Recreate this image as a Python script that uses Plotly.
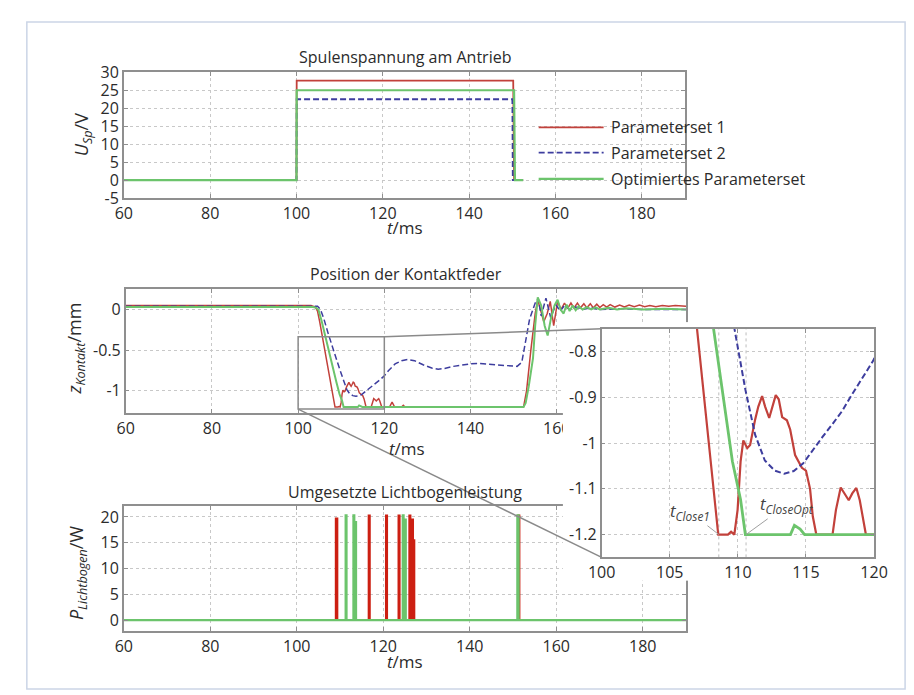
import plotly.graph_objects as go

W, H = 914, 695

# ---------------- data ----------------
# Spulenspannung (V)
u_t_ps1 = [60, 100, 100.05, 150.2, 150.4, 152.5]
u_ps1 = [0, 0, 27.7, 27.7, 0, 0]
u_t_ps2 = [60, 100, 100.05, 150.0, 150.1, 152.5]
u_ps2 = [0, 0, 22.5, 22.5, 0, 0]
u_t_opt = [60, 100, 100.05, 150.4, 150.6, 152.5]
u_opt = [0, 0, 25, 25, 0, 0]

# Position der Kontaktfeder (mm)
z_t_ps1 = [60, 70, 80, 90, 103, 104, 104.5, 105, 106, 107, 108, 108.56, 109.27, 109.5, 109.74,
           109.98, 110.2, 110.4, 110.69, 110.9, 111.27, 111.5, 111.78, 112.0, 112.3, 112.55,
           112.78, 113.0, 113.25, 113.6, 113.84, 114.2, 114.7, 115.0, 115.3, 115.5, 115.76,
           116.95, 117.2, 117.55, 117.85, 118.14, 118.4, 118.7, 118.95, 119.2, 119.4,
           121.2, 121.8, 122.4, 124.0, 124.4, 124.8, 152.3, 153.0, 154.0, 155.0, 155.6,
           156.3, 157.0, 157.8, 158.5, 159.3, 160.2, 161.0, 161.8, 162.5, 163.3, 164.0,
           164.8, 165.5, 166.3, 167.0, 167.8, 168.5, 169.3, 170.0, 170.8, 171.6, 172.4,
           173.5, 174.6, 175.7, 176.8, 178, 179.2, 180.4, 181.6, 183, 184.5, 186, 187.5, 190]
z_ps1 = [0.05, 0.05, 0.05, 0.05, 0.05, 0.03, -0.02, -0.15, -0.45, -0.75, -1.04, -1.2, -1.2, -1.194, -1.2,
         -1.146, -1.04, -0.994, -1.011, -1.004, -0.948, -0.92, -0.897, -0.92, -0.945, -0.92,
         -0.895, -0.904, -0.943, -0.95, -0.97, -1.026, -1.054, -1.06, -1.1, -1.16, -1.2,
         -1.2, -1.146, -1.097, -1.11, -1.125, -1.11, -1.098, -1.125, -1.167, -1.2,
         -1.2, -1.14, -1.2, -1.2, -1.18, -1.2, -1.2, -1.0, -0.5, -0.05, 0.12,
         0.0, -0.15, -0.05, 0.1, -0.2, 0.10, 0.0, 0.08, 0.01, 0.08, 0.02,
         0.08, 0.02, 0.07, 0.02, 0.07, 0.02, 0.065, 0.025, 0.06, 0.03, 0.06,
         0.03, 0.055, 0.03, 0.055, 0.035, 0.055, 0.035, 0.05, 0.035, 0.05, 0.04, 0.05, 0.04]

z_t_ps2 = [60, 104.5, 105.2, 106, 107, 108, 109, 109.75, 110.55, 111.27, 111.98, 112.7, 113.4,
           114.1, 114.8, 115.5, 116.2, 116.95, 117.65, 118.37, 119.1, 119.93, 121, 122.5, 124,
           125.5, 127, 129, 131, 132.5, 134, 136, 138, 140, 142, 144, 146, 148, 150.8, 151.9,
           152.8, 153.7, 155.0, 155.7, 156.4, 157.5, 158.6, 159.8, 160.8, 161.8, 163, 164.5,
           166, 168, 170, 175, 180, 190]
z_ps2 = [0.04, 0.04, 0.0, -0.12, -0.3, -0.48, -0.63, -0.75, -0.883, -0.982, -1.038, -1.06, -1.067,
         -1.061, -1.044, -1.015, -0.987, -0.958, -0.93, -0.894, -0.86, -0.82, -0.75, -0.67, -0.63,
         -0.615, -0.63, -0.68, -0.72, -0.735, -0.725, -0.7, -0.68, -0.668, -0.665, -0.672, -0.685,
         -0.695, -0.70, -0.65, -0.4, -0.12, 0.08, 0.14, -0.08, 0.14, -0.1, 0.06, -0.02, 0.05, 0.0,
         0.03, 0.0, 0.02, 0.0, 0.01, 0.0, 0.0]

z_t_opt = [60, 103.5, 104.2, 104.7, 105.5, 106.5, 107.5, 108.2, 108.9, 109.6, 110.2, 110.55,
           113.86, 114.15, 114.57, 114.9, 152.3, 152.8, 153.5, 154.5, 155.0, 155.6, 156.4,
           157.2, 157.9, 158.7, 159.5, 160.2, 160.9, 161.6, 162.3, 163.0, 163.7, 164.4, 165.1,
           166, 167, 168, 169, 170, 172, 174, 176, 180, 185, 190]
z_opt = [0.03, 0.03, 0.02, 0.0, -0.15, -0.38, -0.6, -0.75, -0.898, -1.04, -1.124, -1.2,
         -1.2, -1.18, -1.188, -1.2, -1.2, -1.15, -0.95, -0.6, -0.2, 0.15, 0.05,
         -0.2, -0.32, -0.1, 0.05, 0.12, 0.0, -0.05, 0.06, -0.02, 0.05, -0.01, 0.04,
         0.0, 0.03, 0.0, 0.025, 0.0, 0.02, 0.0, 0.015, 0.0, 0.01, 0.0]

# Umgesetzte Lichtbogenleistung (W): arcs as (start ms, end ms, power W)
arc_ps1 = [(109.0, 109.4, 19.7), (116.6, 116.9, 20.3), (120.6, 120.9, 20.3), (123.5, 123.8, 20.3),
           (126.0, 126.3, 20.3), (126.5, 126.9, 19.5), (127.0, 127.2, 15.5), (151.2, 151.5, 20.3)]
arc_ps2 = []
arc_opt = [(111.3, 111.5, 20.3), (113.1, 113.3, 20.3), (113.5, 113.7, 19.0), (124.5, 124.7, 20.3),
           (125.0, 125.2, 19.5), (151.0, 151.3, 20.3)]
p_t_start, p_t_end = 60, 190

t_close1 = 108.6
t_close_opt = 110.6

x_ticks = [60, 80, 100, 120, 140, 160, 180]
u_ticks = [-5, 0, 5, 10, 15, 20, 25, 30]
z_ticks = [-1, -0.5, 0]
z_ticktext = ["-1", "-0.5", "0"]
p_ticks = [0, 5, 10, 15, 20]
inset_xticks = [100, 105, 110, 115, 120]
inset_yticks = [-1.2, -1.1, -1.0, -0.9, -0.8]
inset_yticktext = ["-1.2", "-1.1", "-1", "-0.9", "-0.8"]

names = ["Parameterset 1", "Parameterset 2", "Optimiertes Parameterset"]

# ---------------- style ----------------
RED = "#c2413b"
RED_BAR = "#cc1f12"
BLUE = "#3d3d9e"
GREEN = "#6cc46c"
AX = "#8f8f8f"
FONT = "Open Sans"
TXT = "#2b2b2b"


def dom_x(a, b):
    return [a / W, b / W]


def dom_y(top, bottom):
    return [1 - bottom / H, 1 - top / H]


def arcs_to_xy(arcs):
    xs, ys = [p_t_start], [0]
    for s, e, h in sorted(arcs):
        xs += [s, s, e, e]
        ys += [0, h, h, 0]
    xs.append(p_t_end)
    ys.append(0)
    return xs, ys


D1x, D1y = dom_x(105, 684), dom_y(55, 185)
D2x, D2y = dom_x(107, 685), dom_y(279, 407)
D3x, D3y = dom_x(105, 685), dom_y(503, 632)
D4x, D4y = dom_x(558, 912), dom_y(313, 580)
D5x, D5y = dom_x(598, 879), dom_y(320, 556)

X_RANGE = [60, 190]
U_RANGE = [-5, 30]
Z_RANGE = [-1.275, 0.25]
P_RANGE = [-2.1, 22.1]
IX_RANGE = [100, 120]
IY_RANGE = [-1.25, -0.75]

fig = go.Figure()

dash_blue = "6px,3px"


def add_lines(xa, ya, series, widths):
    for (xs, ys, color, dash), w in zip(series, widths):
        fig.add_trace(go.Scatter(x=xs, y=ys, mode="lines", xaxis=xa, yaxis=ya,
                                 line=dict(color=color, width=w, dash=dash),
                                 showlegend=False, hoverinfo="skip"))


add_lines("x", "y", [(u_t_ps1, u_ps1, RED, "solid"), (u_t_ps2, u_ps2, BLUE, dash_blue),
                     (u_t_opt, u_opt, GREEN, "solid")], [1.8, 1.8, 2.2])
add_lines("x2", "y2", [(z_t_ps1, z_ps1, RED, "solid"), (z_t_ps2, z_ps2, BLUE, dash_blue),
                       (z_t_opt, z_opt, GREEN, "solid")], [1.5, 1.5, 2.0])
px1, py1 = arcs_to_xy(arc_ps1)
px2, py2 = arcs_to_xy(arc_ps2)
px3, py3 = arcs_to_xy(arc_opt)
add_lines("x3", "y3", [(px1, py1, RED_BAR, "solid"), (px2, py2, BLUE, dash_blue),
                       (px3, py3, GREEN, "solid")], [1.8, 1.5, 2.2])
# cover layer (overlapping subplot gets its own white background)
fig.add_trace(go.Scatter(x=[None], y=[None], xaxis="x4", yaxis="y4", showlegend=False,
                         hoverinfo="skip"))
add_lines("x5", "y5", [(z_t_ps1, z_ps1, RED, "solid"), (z_t_ps2, z_ps2, BLUE, dash_blue),
                       (z_t_opt, z_opt, GREEN, "solid")], [2.2, 2.0, 2.8])

tickfont = dict(family=FONT, size=16, color=TXT)
common = dict(showline=True, linecolor=AX, linewidth=1.5, mirror="ticks", ticks="inside",
              ticklen=4, tickcolor=AX, showgrid=True, gridcolor="#c8c8c8", griddash="dot",
              gridwidth=1, zeroline=False, tickfont=tickfont, fixedrange=True)

fig.update_layout(
    width=W, height=H, margin=dict(l=0, r=0, t=0, b=0),
    paper_bgcolor="white", plot_bgcolor="white", showlegend=False,
    xaxis=dict(domain=D1x, anchor="y", range=X_RANGE, tickvals=x_ticks, **common),
    yaxis=dict(domain=D1y, anchor="x", range=U_RANGE, tickvals=u_ticks,
               ticktext=[str(v) for v in u_ticks], **common),
    xaxis2=dict(domain=D2x, anchor="y2", range=X_RANGE, tickvals=x_ticks, **common),
    yaxis2=dict(domain=D2y, anchor="x2", range=Z_RANGE, tickvals=z_ticks, ticktext=z_ticktext,
                **common),
    xaxis3=dict(domain=D3x, anchor="y3", range=X_RANGE, tickvals=x_ticks, **common),
    yaxis3=dict(domain=D3y, anchor="x3", range=P_RANGE, tickvals=p_ticks, **common),
    xaxis4=dict(domain=D4x, anchor="y4", range=[0, 1], visible=False, fixedrange=True),
    yaxis4=dict(domain=D4y, anchor="x4", range=[0, 1], visible=False, fixedrange=True),
    xaxis5=dict(domain=D5x, anchor="y5", range=IX_RANGE, tickvals=inset_xticks, **common),
    yaxis5=dict(domain=D5y, anchor="x5", range=IY_RANGE, tickvals=inset_yticks,
                ticktext=inset_yticktext, **common),
)


def to_paper(v, rng, dom):
    return dom[0] + (v - rng[0]) / (rng[1] - rng[0]) * (dom[1] - dom[0])


shapes = []
# zoom rectangle on middle panel
rect_x = [100, 120]
rect_y = [-1.225, -0.335]
shapes.append(dict(type="rect", xref="x2", yref="y2", x0=rect_x[0], x1=rect_x[1],
                   y0=rect_y[0], y1=rect_y[1], line=dict(color="#8a8a8a", width=1.5),
                   layer="above"))
# connectors
shapes.append(dict(type="line", xref="paper", yref="paper",
                   x0=to_paper(rect_x[1], X_RANGE, D2x), y0=to_paper(rect_y[1], Z_RANGE, D2y),
                   x1=D5x[0], y1=D5y[1], line=dict(color="#8a8a8a", width=1.5)))
shapes.append(dict(type="line", xref="paper", yref="paper",
                   x0=to_paper(rect_x[0], X_RANGE, D2x), y0=to_paper(rect_y[0], Z_RANGE, D2y),
                   x1=D5x[0], y1=D5y[0], line=dict(color="#8a8a8a", width=1.5)))
# closing-time markers in inset
for tc in (t_close1, t_close_opt):
    shapes.append(dict(type="line", xref="x5", yref="y5", x0=tc, x1=tc, y0=IY_RANGE[0],
                       y1=IY_RANGE[1], line=dict(color="#bdbdbd", width=1, dash="dot"),
                       layer="below"))
# legend samples
leg_y = [112, 138, 165]
leg_style = [(RED, "solid", 1.8), (BLUE, dash_blue, 1.8), (GREEN, "solid", 2.2)]
for yy, (c, d, w) in zip(leg_y, leg_style):
    shapes.append(dict(type="line", xref="paper", yref="paper", x0=533 / W, x1=600 / W,
                       y0=1 - yy / H, y1=1 - yy / H, line=dict(color=c, width=w, dash=d)))
# outer frame
shapes.append(dict(type="rect", xref="paper", yref="paper", x0=5 / W, x1=911 / W,
                   y0=1 - 692 / H, y1=1 - 3 / H, line=dict(color="#cbd5e6", width=1.5)))

ann = []


def text(x, y, s, size=16, angle=0, xanchor="center", yanchor="middle"):
    ann.append(dict(x=x / W, y=1 - y / H, xref="paper", yref="paper", text=s, showarrow=False,
                    textangle=angle, xanchor=xanchor, yanchor=yanchor,
                    font=dict(family=FONT, size=size, color=TXT)))


text(395, 39, "Spulenspannung am Antrieb", 16)
text(396, 263, "Position der Kontaktfeder", 16)
text(395, 488, "Umgesetzte Lichtbogenleistung", 16)
text(395, 215, "<i>t</i>/ms", 17)
text(397, 444, "<i>t</i>/ms", 17)
text(395, 664, "<i>t</i>/ms", 17)
text(62, 120, "<i>U</i><sub><i>Sp</i></sub>/V", 18, angle=-90)
text(55, 340, "<i>z</i><sub><i>Kontakt</i></sub>/mm", 18, angle=-90)
text(58, 572, "<i>P</i><sub><i>Lichtbogen</i></sub>/W", 18, angle=-90)
for yy, nm in zip(leg_y, names):
    text(606, yy, nm, 16, xanchor="left")

ann.append(dict(x=t_close1, y=-1.2, xref="x5", yref="y5", ax=106.45, ay=-1.15,
                axref="x5", ayref="y5", text="<i>t</i><sub><i>Close1</i></sub>",
                showarrow=True, arrowhead=0, arrowwidth=1, arrowcolor="#a0a0a0",
                font=dict(family=FONT, size=17, color="#444")))
ann.append(dict(x=t_close_opt, y=-1.2, xref="x5", yref="y5", ax=113.6, ay=-1.135,
                axref="x5", ayref="y5", text="<i>t</i><sub><i>CloseOpt</i></sub>",
                showarrow=True, arrowhead=0, arrowwidth=1, arrowcolor="#a0a0a0",
                font=dict(family=FONT, size=17, color="#444")))

fig.update_layout(shapes=shapes, annotations=ann)
fig.write_html("out.html")
